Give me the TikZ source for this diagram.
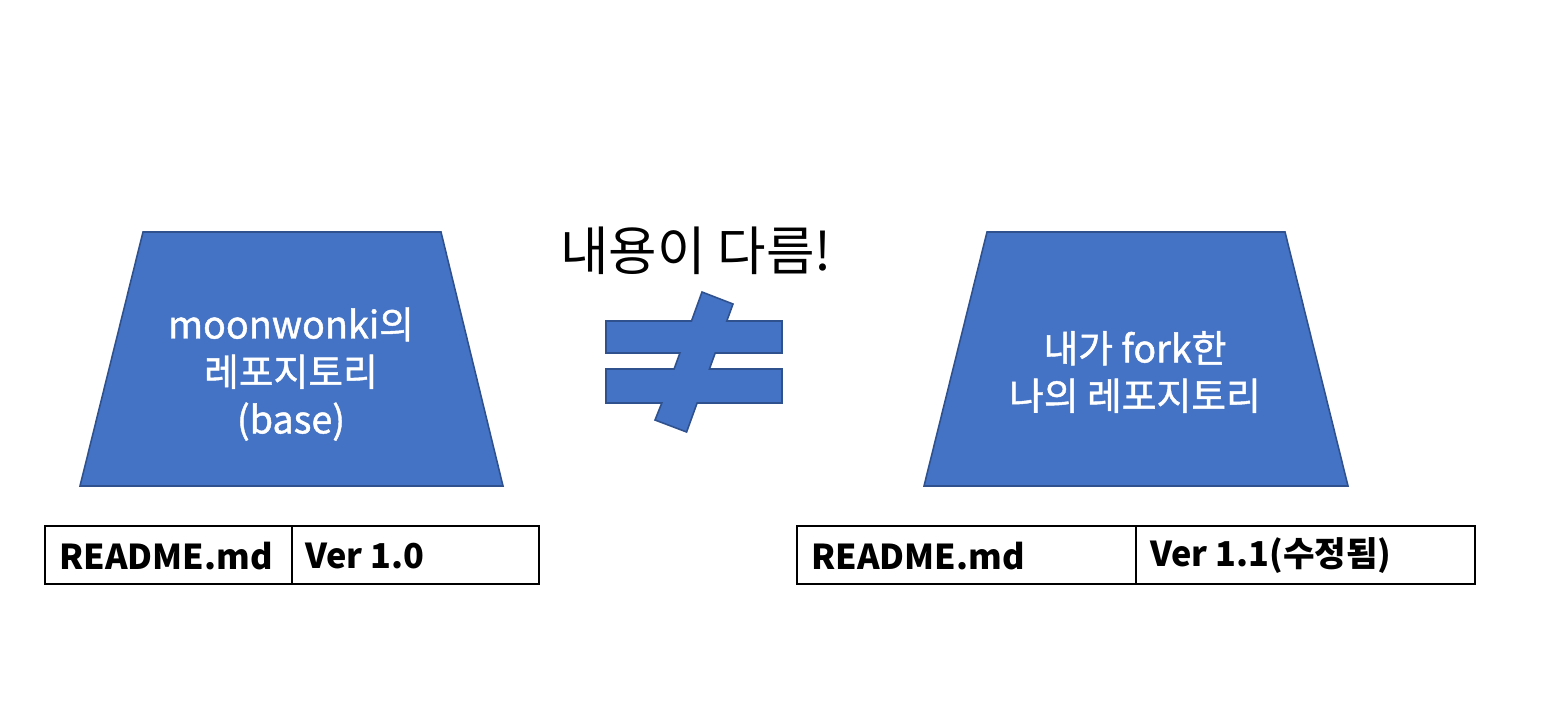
\documentclass[tikz,border=0pt]{standalone}
\usepackage{fontspec}
\setmainfont{Noto Sans CJK KR}
\newfontfamily\medfont{Noto Sans CJK KR}[FakeBold=1.2]
\usetikzlibrary{positioning}
\definecolor{shapeblue}{HTML}{4472C4}
\definecolor{edgeblue}{HTML}{2F528F}
\tikzset{
  blueshape/.style={fill=shapeblue, draw=edgeblue, line width=0.9pt, line join=miter},
  whitetext/.style={text=white, font=\medfont\fontsize{21.5}{27}\selectfont, align=center},
  tableline/.style={draw=black, line width=0.9pt},
  celltext/.style={font=\fontsize{19.5}{24}\selectfont\bfseries, anchor=west}
}
\begin{document}
\begin{tikzpicture}[x=0.02cm, y=-0.02cm]
\useasboundingbox (0,0) rectangle (1558,721);
% left trapezoid
\draw[blueshape] (143,232) -- (441,232) -- (503,486) -- (80,486) -- cycle;
\node[whitetext] (lefttext) at (291,374) {moonwonki의\\레포지토리\\(base)};
% right trapezoid
\draw[blueshape] (987,232) -- (1285,232) -- (1348,486) -- (924,486) -- cycle;
\node[whitetext] (righttext) at (1135,372) {내가 fork한\\나의 레포지토리};
% not equal sign
\draw[blueshape] (702,292) -- (733,304) -- (726.8,321) -- (782,321) -- (782,353) -- (715.2,353) -- (709.4,369) -- (782,369) -- (782,403) -- (697.1,403) -- (686.6,432) -- (655,420) -- (661.8,403) -- (606,403) -- (606,369) -- (674.1,369) -- (679.9,353) -- (606,353) -- (606,321) -- (691.5,321) -- cycle;
\node[font=\fontsize{30}{34}\selectfont] (diff) at (696,251) {내용이 다름!};
% left table
\draw[tableline] (45,526) rectangle (539,584);
\draw[tableline] (292,526) -- (292,584);
\node[celltext] (lreadme) at (53,556) {README.md};
\node[celltext] (lver) at (299,556) {Ver 1.0};
% right table
\draw[tableline] (797,526) rectangle (1475,584);
\draw[tableline] (1136,526) -- (1136,584);
\node[celltext] (rreadme) at (805,556) {README.md};
\node[celltext] (rver) at (1144,556) {Ver 1.1(수정됨)};
\end{tikzpicture}
\end{document}
